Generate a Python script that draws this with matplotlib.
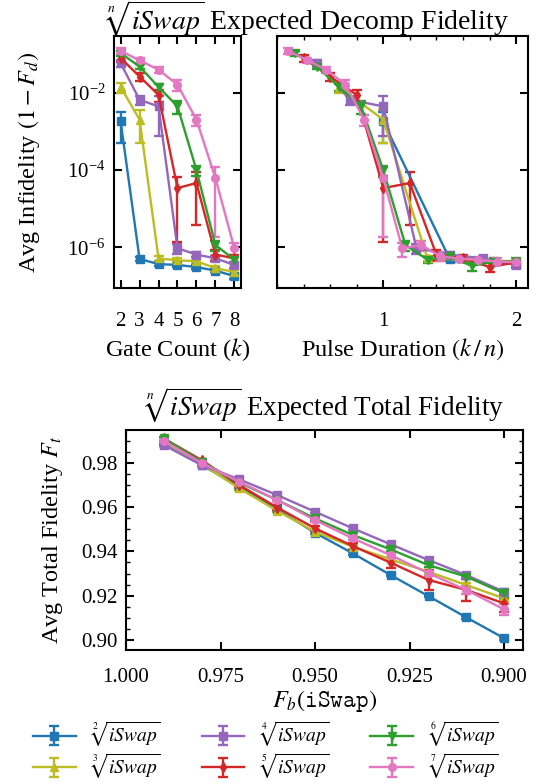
import numpy as np
import matplotlib
matplotlib.use('Agg')
import matplotlib.pyplot as plt
from matplotlib.ticker import NullLocator, MultipleLocator, AutoMinorLocator, FormatStrFormatter

plt.rcParams.update({
    'font.family': 'serif',
    'font.serif': ['Liberation Serif', 'DejaVu Serif'],
    'mathtext.fontset': 'stix',
    'font.size': 15,
    'axes.labelsize': 17.5,
    'axes.titlesize': 19.5,
    'axes.labelpad': 4,
    'axes.linewidth': 1.5,
    'xtick.direction': 'in', 'ytick.direction': 'in',
    'xtick.top': True, 'ytick.right': True,
    'xtick.major.size': 6, 'ytick.major.size': 6,
    'xtick.minor.size': 3, 'ytick.minor.size': 3,
    'xtick.major.width': 1.5, 'ytick.major.width': 1.5,
    'xtick.minor.width': 1.0, 'ytick.minor.width': 1.0,
    'xtick.major.pad': 9, 'ytick.major.pad': 6,
    'xtick.minor.visible': True, 'ytick.minor.visible': True,
})

n_values = [2, 3, 4, 5, 6, 7]
colors = ['#1f77b4', '#bcbd22', '#9467bd', '#d62728', '#2ca02c', '#e377c2']
markers = ['s', '^', 's', 'd', 'v', 'o']

# avg infidelity for k = 2, 3, ... up to max(8, 2n)
infid_n2 = [1.8e-3, 5.0e-7, 3.7e-7, 3.5e-7, 3.1e-7, 2.5e-7, 1.8e-7]
infid_n3 = [1.4e-2, 2.0e-3, 5.2e-7, 4.6e-7, 4.4e-7, 2.9e-7, 2.3e-7]
infid_n4 = [5.8e-2, 6.5e-3, 4.4e-3, 9.5e-7, 6.5e-7, 5.2e-7, 3.5e-7]
infid_n5 = [7.8e-2, 2.6e-2, 8.7e-3, 3.4e-5, 4.6e-5, 6.5e-7, 5.2e-7, 3.1e-7, 4.1e-7]
infid_n6 = [1.05e-1, 4.7e-2, 1.4e-2, 4.4e-3, 1.0e-4, 1.15e-6, 4.8e-7, 5.8e-7, 3.3e-7,
            4.3e-7, 4.3e-7]
infid_n7 = [1.2e-1, 6.8e-2, 3.9e-2, 1.6e-2, 2.0e-3, 6.2e-5, 9.5e-7, 1.15e-6, 5.9e-7,
            5.1e-7, 4.7e-7, 4.3e-7, 4.1e-7]

# std / mean of each point above
relerr_n2 = [0.72, 0.10, 0.10, 0.10, 0.10, 0.10, 0.15]
relerr_n3 = [0.30, 0.75, 0.15, 0.15, 0.10, 0.15, 0.10]
relerr_n4 = [0.20, 0.25, 0.83, 0.30, 0.15, 0.15, 0.15]
relerr_n5 = [0.20, 0.25, 0.35, 0.96, 0.92, 0.30, 0.20, 0.25, 0.20]
relerr_n6 = [0.15, 0.15, 0.20, 0.35, 0.30, 0.30, 0.20, 0.20, 0.25, 0.20, 0.20]
relerr_n7 = [0.15, 0.15, 0.20, 0.30, 0.30, 0.97, 0.40, 0.30, 0.25, 0.20, 0.20, 0.20, 0.20]

infids = [infid_n2, infid_n3, infid_n4, infid_n5, infid_n6, infid_n7]
relerrs = [relerr_n2, relerr_n3, relerr_n4, relerr_n5, relerr_n6, relerr_n7]

# total fidelity vs basis gate fidelity
fb = [0.99, 0.98, 0.97, 0.96, 0.95, 0.94, 0.93, 0.92, 0.91, 0.90]
ft_n2 = [0.9884, 0.9790, 0.9692, 0.9590, 0.9484, 0.9391, 0.9293, 0.9198, 0.9102, 0.9008]
ft_n3 = [0.9895, 0.9794, 0.9684, 0.9583, 0.9489, 0.9421, 0.9364, 0.9308, 0.9248, 0.9188]
ft_n4 = [0.9880, 0.9790, 0.9725, 0.9654, 0.9579, 0.9504, 0.9432, 0.9361, 0.9293, 0.9218]
ft_n5 = [0.9910, 0.9812, 0.9699, 0.9598, 0.9504, 0.9424, 0.9349, 0.9271, 0.9226, 0.9165]
ft_n6 = [0.9910, 0.9805, 0.9710, 0.9632, 0.9549, 0.9474, 0.9409, 0.9338, 0.9286, 0.9211]
ft_n7 = [0.9899, 0.9800, 0.9714, 0.9632, 0.9541, 0.9459, 0.9383, 0.9301, 0.9226, 0.9138]
fterr_n2 = [0.0005, 0.0005, 0.0005, 0.0005, 0.0006, 0.0006, 0.0006, 0.0006, 0.0006, 0.0006]
fterr_n3 = [0.0005, 0.0005, 0.0006, 0.0006, 0.0007, 0.0008, 0.0008, 0.0008, 0.0008, 0.0009]
fterr_n4 = [0.0005, 0.0005, 0.0005, 0.0005, 0.0006, 0.0006, 0.0006, 0.0006, 0.0006, 0.0007]
fterr_n5 = [0.0006, 0.0007, 0.0008, 0.0010, 0.0012, 0.0016, 0.0022, 0.0045, 0.0050, 0.0040]
fterr_n6 = [0.0005, 0.0005, 0.0006, 0.0006, 0.0007, 0.0008, 0.0008, 0.0010, 0.0012, 0.0020]
fterr_n7 = [0.0005, 0.0005, 0.0006, 0.0006, 0.0007, 0.0008, 0.0010, 0.0012, 0.0018, 0.0025]
fts = [ft_n2, ft_n3, ft_n4, ft_n5, ft_n6, ft_n7]
fterrs = [fterr_n2, fterr_n3, fterr_n4, fterr_n5, fterr_n6, fterr_n7]

fig = plt.figure(figsize=(5.42, 7.83), dpi=100)
ax1 = fig.add_axes([0.2103, 0.6322, 0.2343, 0.3218])
ax2 = fig.add_axes([0.5111, 0.6322, 0.4631, 0.3218], sharey=ax1)
ax3 = fig.add_axes([0.2325, 0.1699, 0.7325, 0.2809])

eb_kw = dict(linewidth=1.7, markersize=5.5, capsize=3.5, capthick=1.7, elinewidth=1.7)

handles = []
for i, n in enumerate(n_values):
    y = np.array(infids[i])
    err = y * np.array(relerrs[i])
    k = np.arange(2, 2 + len(y))
    left = k <= 8
    ax1.errorbar(k[left], y[left], yerr=err[left], color=colors[i], marker=markers[i], **eb_kw)
    right = k <= 2 * n
    ax2.errorbar(k[right] / n, y[right], yerr=err[right], color=colors[i], marker=markers[i], **eb_kw)
    h = ax3.errorbar(fb, fts[i], yerr=fterrs[i], color=colors[i], marker=markers[i], **eb_kw)
    handles.append(h)

for ax in (ax1, ax2):
    ax.tick_params(axis='x', which='major', pad=17)

ax1.set_yscale('log')
ax1.set_ylim(8.9e-8, 0.29)
ax1.set_yticks([1e-6, 1e-4, 1e-2])
ax1.yaxis.set_minor_locator(NullLocator())
ax1.set_xlim(1.65, 8.35)
ax1.set_xticks(range(2, 9))
ax1.xaxis.set_minor_locator(NullLocator())
ax1.set_xlabel('Gate Count ($k$)')
ax1.set_ylabel('Avg Infidelity $(1-F_d)$')
ax1.yaxis.set_label_coords(-0.567, 0.5)

ax2.set_xlim(0.2, 2.09)
ax2.set_xticks([1, 2])
ax2.xaxis.set_minor_locator(MultipleLocator(0.2))
ax2.tick_params(labelleft=False)
ax2.yaxis.set_minor_locator(NullLocator())
ax2.set_xlabel(r'Pulse Duration $(k\,/\,n)$')

fig.text(0.567, 0.976, r'$\sqrt[n]{iSwap}$ Expected Decomp Fidelity', ha='center', va='center',
         fontsize=20)

ax3.tick_params(axis='x', which='major', pad=13)
ax3.set_xlim(1.0, 0.895)
ax3.set_xticks([1.0, 0.975, 0.95, 0.925, 0.9])
ax3.xaxis.set_major_formatter(FormatStrFormatter('%.3f'))
ax3.xaxis.set_minor_locator(NullLocator())
ax3.set_ylim(0.8955, 0.9948)
ax3.set_yticks([0.90, 0.92, 0.94, 0.96, 0.98])
ax3.yaxis.set_major_formatter(FormatStrFormatter('%.2f'))
ax3.yaxis.set_minor_locator(AutoMinorLocator(4))
ax3.set_xlabel(r'$F_b(\mathtt{iSwap})$', labelpad=1)
ax3.set_ylabel('Avg Total Fidelity $F_t$')
ax3.yaxis.set_label_coords(-0.154, 0.5)
ax3.set_title(r'$\sqrt[n]{iSwap}$ Expected Total Fidelity', pad=10)

labels = [r'$\sqrt[%d]{iSwap}$' % n for n in n_values]
fig.legend(handles, labels, loc='lower center', ncol=3, frameon=False, fontsize=14,
           bbox_to_anchor=(0.49, -0.02), columnspacing=2.1, handlelength=2.2,
           handletextpad=0.75, labelspacing=0.15)

fig.savefig('out.png', dpi=100)
